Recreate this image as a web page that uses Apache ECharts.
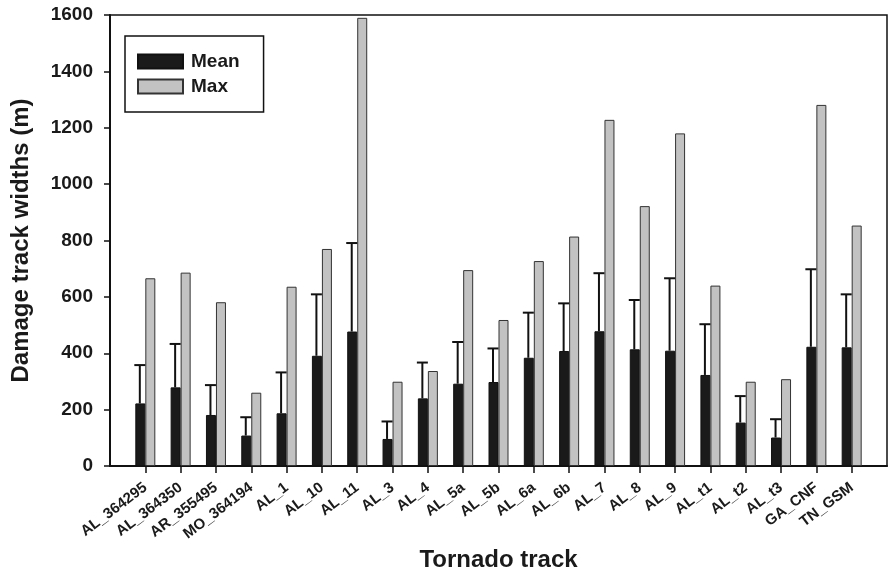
<!DOCTYPE html>
<html>
<head>
<meta charset="utf-8">
<script src="https://cdn.jsdelivr.net/npm/echarts@6/dist/echarts.min.js"></script>
<style>
  html, body { margin: 0; padding: 0; background: #fff; }
  #chart { width: 889px; height: 573px; }
</style>
</head>
<body>
<div id="chart"></div>
<script>
// Tornado tracks
var tracks = ['AL_364295', 'AL_364350', 'AR_355495', 'MO_364194', 'AL_1', 'AL_10', 'AL_11',
  'AL_3', 'AL_4', 'AL_5a', 'AL_5b', 'AL_6a', 'AL_6b', 'AL_7', 'AL_8', 'AL_9',
  'AL_t1', 'AL_t2', 'AL_t3', 'GA_CNF', 'TN_GSM'];
// Mean damage track width (m)
var meanWidth = [222, 279, 181, 108, 187, 391, 477, 96, 240, 292, 298, 384, 408, 478, 414, 409, 323, 154, 101, 423, 421];
// Standard deviation above the mean (m)
var sdWidth = [136, 154, 106, 65, 145, 218, 314, 62, 127, 148, 119, 160, 169, 206, 175, 257, 180, 94, 65, 275, 188];
// Maximum damage track width (m)
var maxWidth = [666, 686, 581, 260, 636, 770, 1590, 299, 337, 695, 518, 727, 814, 1228, 922, 1180, 640, 299, 308, 1281, 853];
var yTicks = [0, 200, 400, 600, 800, 1000, 1200, 1400, 1600];

// empty slots at both ends give the half-step padding inside the frame
var axisCats = [''].concat(tracks, ['']);

var chart = echarts.init(document.getElementById('chart'));
var FONT = 'Liberation Sans, Arial, sans-serif';

var errData = tracks.map(function (t, i) { return [t, meanWidth[i], meanWidth[i] + sdWidth[i]]; });

chart.setOption({
  animation: false,
  backgroundColor: '#fff',
  grid: {
    left: 110, right: 2, top: 15, bottom: 107,
    outerBoundsMode: 'none',
    containLabel: false,
    show: true, borderColor: '#111', borderWidth: 1.5, backgroundColor: 'transparent'
  },
  legend: {
    orient: 'vertical',
    left: 125, top: 36,
    padding: [16, 24, 16, 12],
    borderColor: '#111', borderWidth: 1.5,
    itemWidth: 45, itemHeight: 14, itemGap: 6,
    icon: 'rect',
    textStyle: { fontFamily: FONT, fontWeight: 'bold', fontSize: 19, color: '#1a1a1a', padding: [0, 0, 0, 3] },
    data: ['Mean', 'Max']
  },
  xAxis: {
    type: 'category',
    data: axisCats,
    boundaryGap: false,
    name: 'Tornado track',
    nameLocation: 'middle',
    nameGap: 82,
    nameTextStyle: { fontFamily: FONT, fontWeight: 'bold', fontSize: 24, color: '#1a1a1a' },
    axisLine: { lineStyle: { color: '#111', width: 2 } },
    axisTick: {
      inside: false, length: 7,
      interval: function (idx) { return idx > 0 && idx < axisCats.length - 1; },
      lineStyle: { color: '#111', width: 1.5 }
    },
    axisLabel: {
      interval: 0, rotate: 37, margin: 20,
      fontFamily: FONT, fontWeight: 'bold', fontSize: 15, color: '#1a1a1a'
    },
    splitLine: { show: false }
  },
  yAxis: {
    type: 'value',
    min: 0, max: 1600, interval: 200,
    name: 'Damage track widths (m)',
    nameLocation: 'middle',
    nameGap: 77,
    nameTextStyle: { fontFamily: FONT, fontWeight: 'bold', fontSize: 24, color: '#1a1a1a' },
    axisLine: { show: true, lineStyle: { color: '#111', width: 2 } },
    axisTick: { show: true, inside: false, length: 6, lineStyle: { color: '#111', width: 1.5 } },
    axisLabel: {
      margin: 17, fontFamily: FONT, fontWeight: 'bold', fontSize: 19, color: '#1a1a1a',
      formatter: function (v) { return yTicks.indexOf(v) >= 0 ? String(v) : ''; }
    },
    splitLine: { show: false }
  },
  series: [
    {
      name: 'Mean',
      type: 'bar',
      barWidth: 10,
      barGap: '0%',
      data: tracks.map(function (t, i) { return [t, meanWidth[i]]; }),
      itemStyle: { color: '#1a1a1a', borderColor: '#111', borderWidth: 1 },
      z: 3
    },
    {
      name: 'Max',
      type: 'bar',
      barWidth: 10,
      barGap: '0%',
      data: tracks.map(function (t, i) { return [t, maxWidth[i]]; }),
      itemStyle: { color: '#c2c2c2', borderColor: '#333', borderWidth: 1 },
      z: 3
    },
    {
      // upward standard-deviation whiskers on the mean bars
      name: 'SD',
      type: 'custom',
      data: errData,
      z: 4,
      renderItem: function (params, api) {
        var lo = api.coord([api.value(0), api.value(1)]);
        var hi = api.coord([api.value(0), api.value(2)]);
        var x = lo[0] - 5.5;
        var capHalf = 5.5;
        var style = { stroke: '#111', lineWidth: 2 };
        return {
          type: 'group',
          children: [
            { type: 'line', shape: { x1: x, y1: lo[1], x2: x, y2: hi[1] }, style: style },
            { type: 'line', shape: { x1: x - capHalf, y1: hi[1], x2: x + capHalf, y2: hi[1] }, style: style }
          ]
        };
      }
    }
  ]
});
</script>
</body>
</html>
